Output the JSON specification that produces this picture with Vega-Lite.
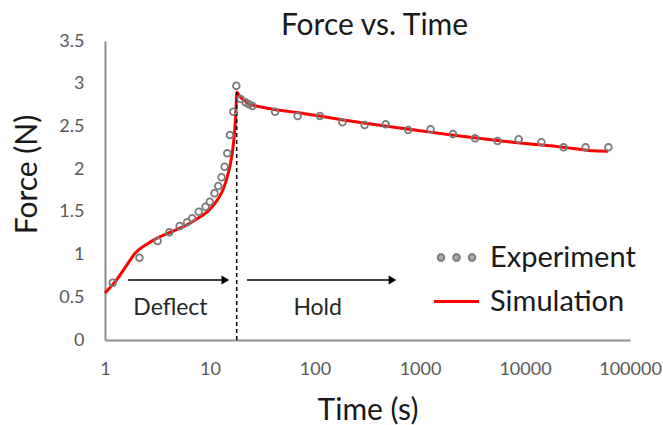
{
  "$schema": "https://vega.github.io/schema/vega-lite/v6.json",
  "width": 525,
  "height": 299,
  "autosize": {"type": "none"},
  "padding": {"left": 105, "top": 41, "right": 33, "bottom": 85},
  "background": "white",
  "config": {"view": {"stroke": null}, "font": "Lato"},
  "title": {
    "text": "Force vs. Time",
    "frame": "group",
    "anchor": "middle",
    "baseline": "alphabetic",
    "offset": 8,
    "dx": 7,
    "dy": 41,
    "fontSize": 30,
    "fontWeight": "normal",
    "color": "#1a1a1a",
    "font": "Lato"
  },
  "datasets": {
    "experiment": [
      {"time": 1.185, "force": 0.671, "series": "Experiment"},
      {"time": 2.13, "force": 0.963, "series": "Experiment"},
      {"time": 3.17, "force": 1.159, "series": "Experiment"},
      {"time": 4.1, "force": 1.26, "series": "Experiment"},
      {"time": 5.14, "force": 1.335, "series": "Experiment"},
      {"time": 6.05, "force": 1.378, "series": "Experiment"},
      {"time": 6.76, "force": 1.425, "series": "Experiment"},
      {"time": 7.81, "force": 1.502, "series": "Experiment"},
      {"time": 9.06, "force": 1.56, "series": "Experiment"},
      {"time": 9.96, "force": 1.619, "series": "Experiment"},
      {"time": 11.04, "force": 1.718, "series": "Experiment"},
      {"time": 11.98, "force": 1.803, "series": "Experiment"},
      {"time": 12.88, "force": 1.905, "series": "Experiment"},
      {"time": 13.76, "force": 2.029, "series": "Experiment"},
      {"time": 14.61, "force": 2.185, "series": "Experiment"},
      {"time": 15.47, "force": 2.4, "series": "Experiment"},
      {"time": 16.67, "force": 2.672, "series": "Experiment"},
      {"time": 17.81, "force": 2.977, "series": "Experiment"},
      {"time": 19.59, "force": 2.82, "series": "Experiment"},
      {"time": 21.87, "force": 2.78, "series": "Experiment"},
      {"time": 23.52, "force": 2.76, "series": "Experiment"},
      {"time": 25.34, "force": 2.74, "series": "Experiment"},
      {"time": 41.7, "force": 2.672, "series": "Experiment"},
      {"time": 68.3, "force": 2.622, "series": "Experiment"},
      {"time": 111.6, "force": 2.622, "series": "Experiment"},
      {"time": 182.5, "force": 2.548, "series": "Experiment"},
      {"time": 296.5, "force": 2.517, "series": "Experiment"},
      {"time": 470.8, "force": 2.525, "series": "Experiment"},
      {"time": 771, "force": 2.458, "series": "Experiment"},
      {"time": 1260, "force": 2.466, "series": "Experiment"},
      {"time": 2061, "force": 2.412, "series": "Experiment"},
      {"time": 3345, "force": 2.361, "series": "Experiment"},
      {"time": 5479, "force": 2.329, "series": "Experiment"},
      {"time": 8710, "force": 2.349, "series": "Experiment"},
      {"time": 14320, "force": 2.315, "series": "Experiment"},
      {"time": 23270, "force": 2.255, "series": "Experiment"},
      {"time": 37760, "force": 2.255, "series": "Experiment"},
      {"time": 62250, "force": 2.255, "series": "Experiment"}
    ],
    "simulation": [
      {"time": 1, "force": 0.55, "series": "Simulation"},
      {"time": 1.3, "force": 0.71, "series": "Simulation"},
      {"time": 1.6, "force": 0.87, "series": "Simulation"},
      {"time": 1.95, "force": 1.02, "series": "Simulation"},
      {"time": 2.5, "force": 1.12, "series": "Simulation"},
      {"time": 3.1, "force": 1.19, "series": "Simulation"},
      {"time": 4, "force": 1.25, "series": "Simulation"},
      {"time": 5, "force": 1.3, "series": "Simulation"},
      {"time": 6.5, "force": 1.37, "series": "Simulation"},
      {"time": 8, "force": 1.44, "series": "Simulation"},
      {"time": 9.4, "force": 1.5, "series": "Simulation"},
      {"time": 11, "force": 1.59, "series": "Simulation"},
      {"time": 12.2, "force": 1.67, "series": "Simulation"},
      {"time": 13.5, "force": 1.78, "series": "Simulation"},
      {"time": 14.6, "force": 1.91, "series": "Simulation"},
      {"time": 15.5, "force": 2.04, "series": "Simulation"},
      {"time": 16.3, "force": 2.19, "series": "Simulation"},
      {"time": 17.1, "force": 2.42, "series": "Simulation"},
      {"time": 17.6, "force": 2.65, "series": "Simulation"},
      {"time": 18.0, "force": 2.9, "series": "Simulation"},
      {"time": 18.8, "force": 2.87, "series": "Simulation"},
      {"time": 20, "force": 2.83, "series": "Simulation"},
      {"time": 21.5, "force": 2.8, "series": "Simulation"},
      {"time": 24, "force": 2.76, "series": "Simulation"},
      {"time": 30, "force": 2.73, "series": "Simulation"},
      {"time": 40, "force": 2.7, "series": "Simulation"},
      {"time": 70, "force": 2.66, "series": "Simulation"},
      {"time": 100, "force": 2.63, "series": "Simulation"},
      {"time": 200, "force": 2.57, "series": "Simulation"},
      {"time": 500, "force": 2.5, "series": "Simulation"},
      {"time": 1000, "force": 2.45, "series": "Simulation"},
      {"time": 2000, "force": 2.4, "series": "Simulation"},
      {"time": 5000, "force": 2.34, "series": "Simulation"},
      {"time": 10000, "force": 2.3, "series": "Simulation"},
      {"time": 20000, "force": 2.265, "series": "Simulation"},
      {"time": 30000, "force": 2.24, "series": "Simulation"},
      {"time": 45000, "force": 2.215, "series": "Simulation"},
      {"time": 62000, "force": 2.21, "series": "Simulation"}
    ],
    "divider": [{"time": 17.96, "force": 0, "force2": 2.9}],
    "arrows": [
      {"phase": "Deflect", "start": 1.66, "end": 14.0, "force": 0.702, "label": 4.2, "labelForce": 0.293},
      {"phase": "Hold", "start": 22.5, "end": 547, "force": 0.702, "label": 106, "labelForce": 0.293}
    ]
  },
  "layer": [
    {
      "data": {"name": "simulation"},
      "mark": {"type": "line", "strokeWidth": 3, "interpolate": "monotone"},
      "encoding": {
        "x": {
          "field": "time", "type": "quantitative",
          "scale": {"type": "log", "domain": [1, 100000], "nice": false},
          "axis": {
            "values": [1, 10, 100, 1000, 10000, 100000],
            "format": "d",
            "grid": false, "ticks": false,
            "domainColor": "#8c8c8c", "domainWidth": 2,
            "labelFont": "Lato", "labelFontSize": 18, "labelColor": "#595959", "labelPadding": 20,
            "labelFlush": false, "labelOverlap": false,
            "title": "Time (s)", "titleFont": "Lato", "titleFontSize": 30, "titleFontWeight": "normal",
            "titleColor": "#1a1a1a", "titleBaseline": "alphabetic", "titleY": 79
          }
        },
        "y": {
          "field": "force", "type": "quantitative",
          "scale": {"domain": [0, 3.5], "nice": false},
          "axis": {
            "values": [0, 0.5, 1, 1.5, 2, 2.5, 3, 3.5],
            "format": "~g",
            "grid": false, "ticks": false,
            "domainColor": "#8c8c8c", "domainWidth": 2,
            "labelFont": "Lato", "labelFontSize": 18, "labelColor": "#595959", "labelPadding": 21,
            "labelFlush": false, "labelOverlap": false,
            "title": "Force (N)", "titleFont": "Lato", "titleFontSize": 30, "titleFontWeight": "normal",
            "titleColor": "#1a1a1a", "titleBaseline": "alphabetic", "titleX": -69, "titleY": 133
          }
        },
        "color": {
          "field": "series", "type": "nominal",
          "scale": {"domain": ["Experiment", "Simulation"], "range": ["#7a7a7a", "#ff0000"]},
          "legend": {
            "orient": "none", "legendX": 337, "legendY": 202,
            "title": null, "padding": 0,
            "labelFont": "Lato", "labelFontSize": 29, "labelColor": "#1a1a1a",
            "symbolSize": 400, "labelOffset": 19, "rowPadding": 14,
            "encode": {
              "symbols": {
                "update": {
                  "shape": {"signal": "datum.value === 'Experiment' ? 'M-0.551,0.057L-0.633,0.139L-0.747,0.139L-0.829,0.057L-0.829,-0.057L-0.747,-0.139L-0.633,-0.139L-0.551,-0.057Z M0.139,0.057L0.057,0.139L-0.057,0.139L-0.139,0.057L-0.139,-0.057L-0.057,-0.139L0.057,-0.139L0.139,-0.057Z M0.829,0.057L0.747,0.139L0.633,0.139L0.551,0.057L0.551,-0.057L0.633,-0.139L0.747,-0.139L0.829,-0.057Z' : 'stroke'"},
                  "size": {"value": 2025},
                  "fill": {"signal": "datum.value === 'Experiment' ? '#b0b0b0' : 'transparent'"},
                  "stroke": {"signal": "datum.value === 'Experiment' ? '#7a7a7a' : '#ff0000'"},
                  "strokeWidth": {"signal": "datum.value === 'Experiment' ? 2 : 3"},
                  "opacity": {"value": 1}
                }
              }
            }
          }
        }
      }
    },
    {
      "data": {"name": "divider"},
      "mark": {"type": "rule", "color": "#000000", "strokeWidth": 1.5, "strokeDash": [4, 3]},
      "encoding": {
        "x": {"field": "time", "type": "quantitative"},
        "y": {"field": "force", "type": "quantitative"},
        "y2": {"field": "force2"}
      }
    },
    {
      "data": {"name": "arrows"},
      "mark": {"type": "rule", "color": "#000000", "strokeWidth": 1.5},
      "encoding": {
        "x": {"field": "start", "type": "quantitative"},
        "x2": {"field": "end"},
        "y": {"field": "force", "type": "quantitative"}
      }
    },
    {
      "data": {"name": "arrows"},
      "mark": {"type": "point", "shape": "triangle-right", "filled": true, "color": "#000000", "size": 80, "opacity": 1},
      "encoding": {
        "x": {"field": "end", "type": "quantitative"},
        "y": {"field": "force", "type": "quantitative"}
      }
    },
    {
      "data": {"name": "arrows"},
      "mark": {"type": "text", "font": "Lato", "fontSize": 23, "color": "#262626", "align": "center", "baseline": "alphabetic"},
      "encoding": {
        "x": {"field": "label", "type": "quantitative"},
        "y": {"field": "labelForce", "type": "quantitative"},
        "text": {"field": "phase"}
      }
    },
    {
      "data": {"name": "experiment"},
      "mark": {"type": "point", "shape": "circle", "filled": false, "size": 45, "strokeWidth": 1.8, "opacity": 1},
      "encoding": {
        "x": {"field": "time", "type": "quantitative"},
        "y": {"field": "force", "type": "quantitative"},
        "color": {"field": "series", "type": "nominal"}
      }
    }
  ]
}
